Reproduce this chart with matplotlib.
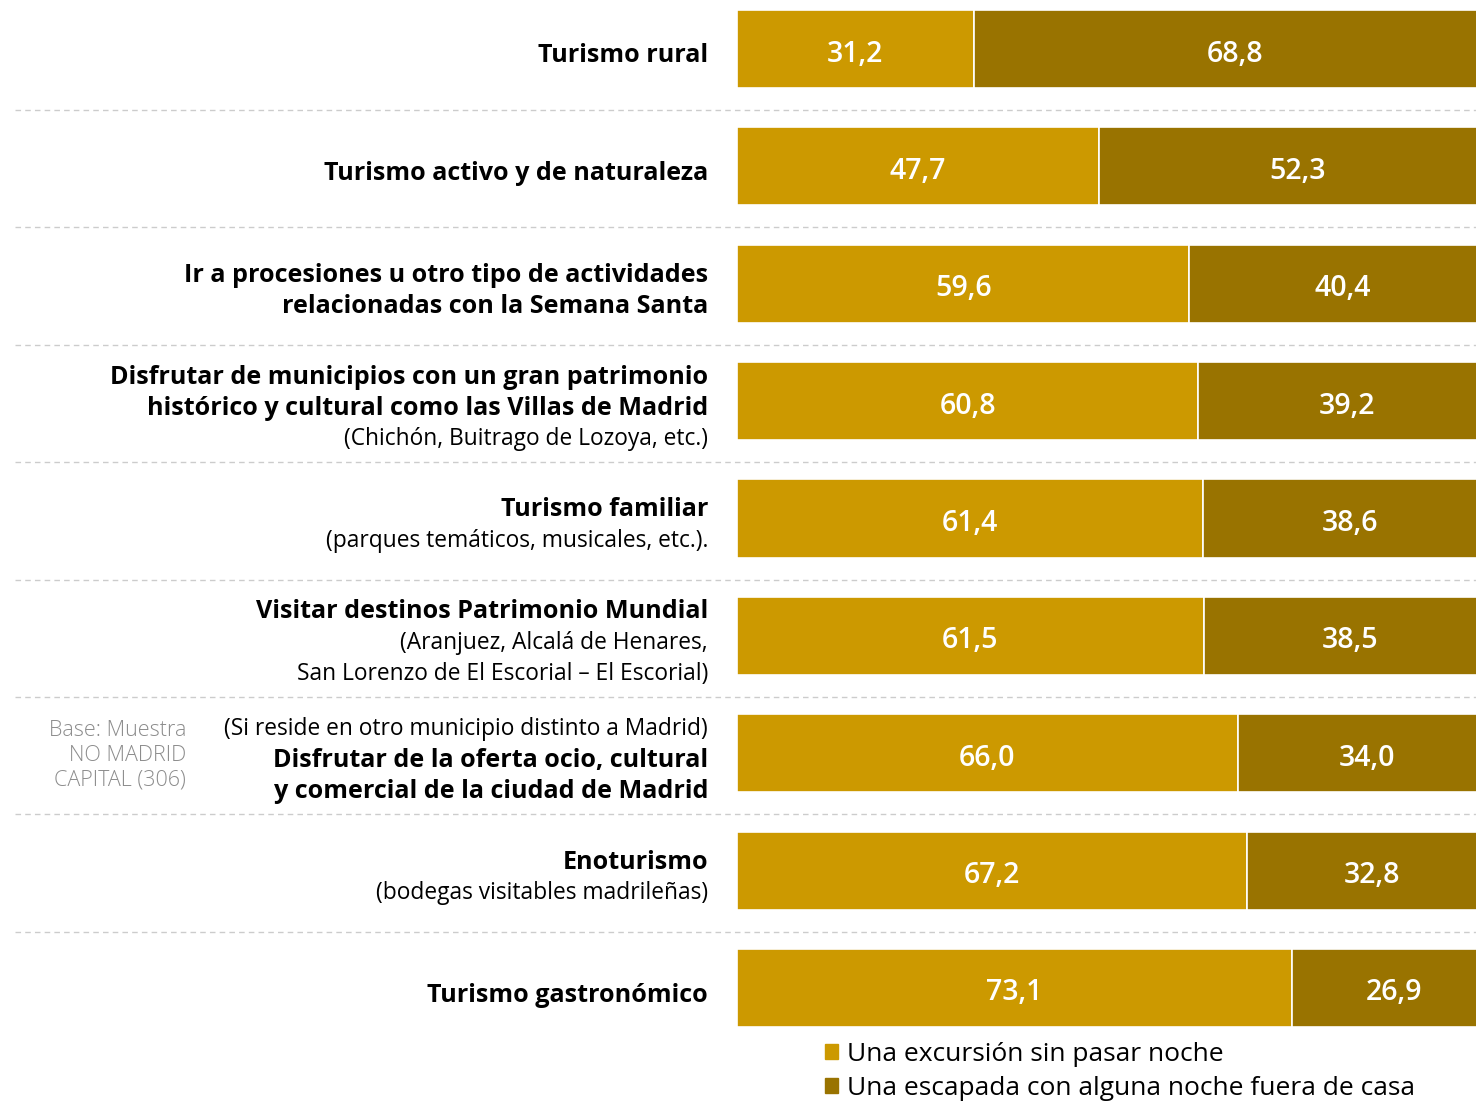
import matplotlib.pyplot as plt
from matplotlib.patches import Patch

# categories: each is a list of (line text, bold?)
labels = [
    [("Turismo rural", True)],
    [("Turismo activo y de naturaleza", True)],
    [("Ir a procesiones u otro tipo de actividades", True),
     ("relacionadas con la Semana Santa", True)],
    [("Disfrutar de municipios con un gran patrimonio", True),
     ("histórico y cultural como las Villas de Madrid", True),
     ("(Chichón, Buitrago de Lozoya, etc.)", False)],
    [("Turismo familiar", True),
     ("(parques temáticos, musicales, etc.).", False)],
    [("Visitar destinos Patrimonio Mundial", True),
     ("(Aranjuez, Alcalá de Henares,", False),
     ("San Lorenzo de El Escorial – El Escorial)", False)],
    [("(Si reside en otro municipio distinto a Madrid)", False),
     ("Disfrutar de la oferta ocio, cultural", True),
     ("y comercial de la ciudad de Madrid", True)],
    [("Enoturismo", True),
     ("(bodegas visitables madrileñas)", False)],
    [("Turismo gastronómico", True)],
]
excursion = [31.2, 47.7, 59.6, 60.8, 61.4, 61.5, 66.0, 67.2, 73.1]
escapada = [68.8, 52.3, 40.4, 39.2, 38.6, 38.5, 34.0, 32.8, 26.9]
series_names = ["Una excursión sin pasar noche",
                "Una escapada con alguna noche fuera de casa"]
colors = ["#CC9900", "#997300"]

plt.rcParams["font.family"] = ["Open Sans", "DejaVu Sans"]

W, H = 1476, 1105
fig = plt.figure(figsize=(W / 100, H / 100), dpi=100)
# the bars run a little past the right edge of the picture
ax = fig.add_axes([737 / W, 0, 759 / W, 1])

step = 117.375  # pixels per category
ax.set_xlim(0, 100)
ax.set_ylim((H - 49) / step, -49 / step)
ax.axis("off")

pos = list(range(len(excursion)))
ax.barh(pos, excursion, height=0.665, color=colors[0], edgecolor="white", linewidth=1.2)
ax.barh(pos, escapada, left=excursion, height=0.665, color=colors[1],
        edgecolor="white", linewidth=1.2)

def fmt(v):
    return f"{v:.1f}".replace(".", ",")

for i in pos:
    ax.text(excursion[i] / 2, i + 5 / step, fmt(excursion[i]), color="white",
            ha="center", va="center", fontsize=20.5, fontweight="semibold")
    ax.text(excursion[i] + escapada[i] / 2, i + 5 / step, fmt(escapada[i]), color="white",
            ha="center", va="center", fontsize=20.5, fontweight="semibold")

# category labels
for i, lines in enumerate(labels):
    n = len(lines)
    for k, (txt, bold) in enumerate(lines):
        dy = 7 + (k - (n - 1) / 2) * 31
        ax.annotate(txt, xy=(0, i), xycoords="data", xytext=(-29, -dy),
                    textcoords="offset pixels", ha="right", va="center",
                    fontsize=18.1 if bold else 16.4,
                    fontweight="bold" if bold else "normal", color="black",
                    annotation_clip=False)

# dashed separators
for i in pos[:-1]:
    ax.plot([-95.1, 100], [i + 0.52, i + 0.52], color="#cccccc", lw=1,
            ls=(0, (4, 3)), clip_on=False)

# base note
for k, txt in enumerate(["Base: Muestra", "NO MADRID", "CAPITAL (306)"]):
    ax.annotate(txt, xy=(0, 6), xycoords="data", xytext=(186 - 737, -(k - 1) * 25 - 2),
                textcoords="offset pixels", ha="right", va="center",
                fontsize=15.5, color="#8c8c8c", fontweight="light",
                annotation_clip=False)

handles = [Patch(color=c) for c in colors]
fig.legend(handles, series_names, loc="upper left",
           bbox_to_anchor=(825 / W, 1 - 1042 / H), frameon=False,
           fontsize=19, handlelength=0.5, handleheight=0.5,
           handletextpad=0.35, labelspacing=0.35, borderpad=0, borderaxespad=0)

fig.savefig("out.png", dpi=100)
